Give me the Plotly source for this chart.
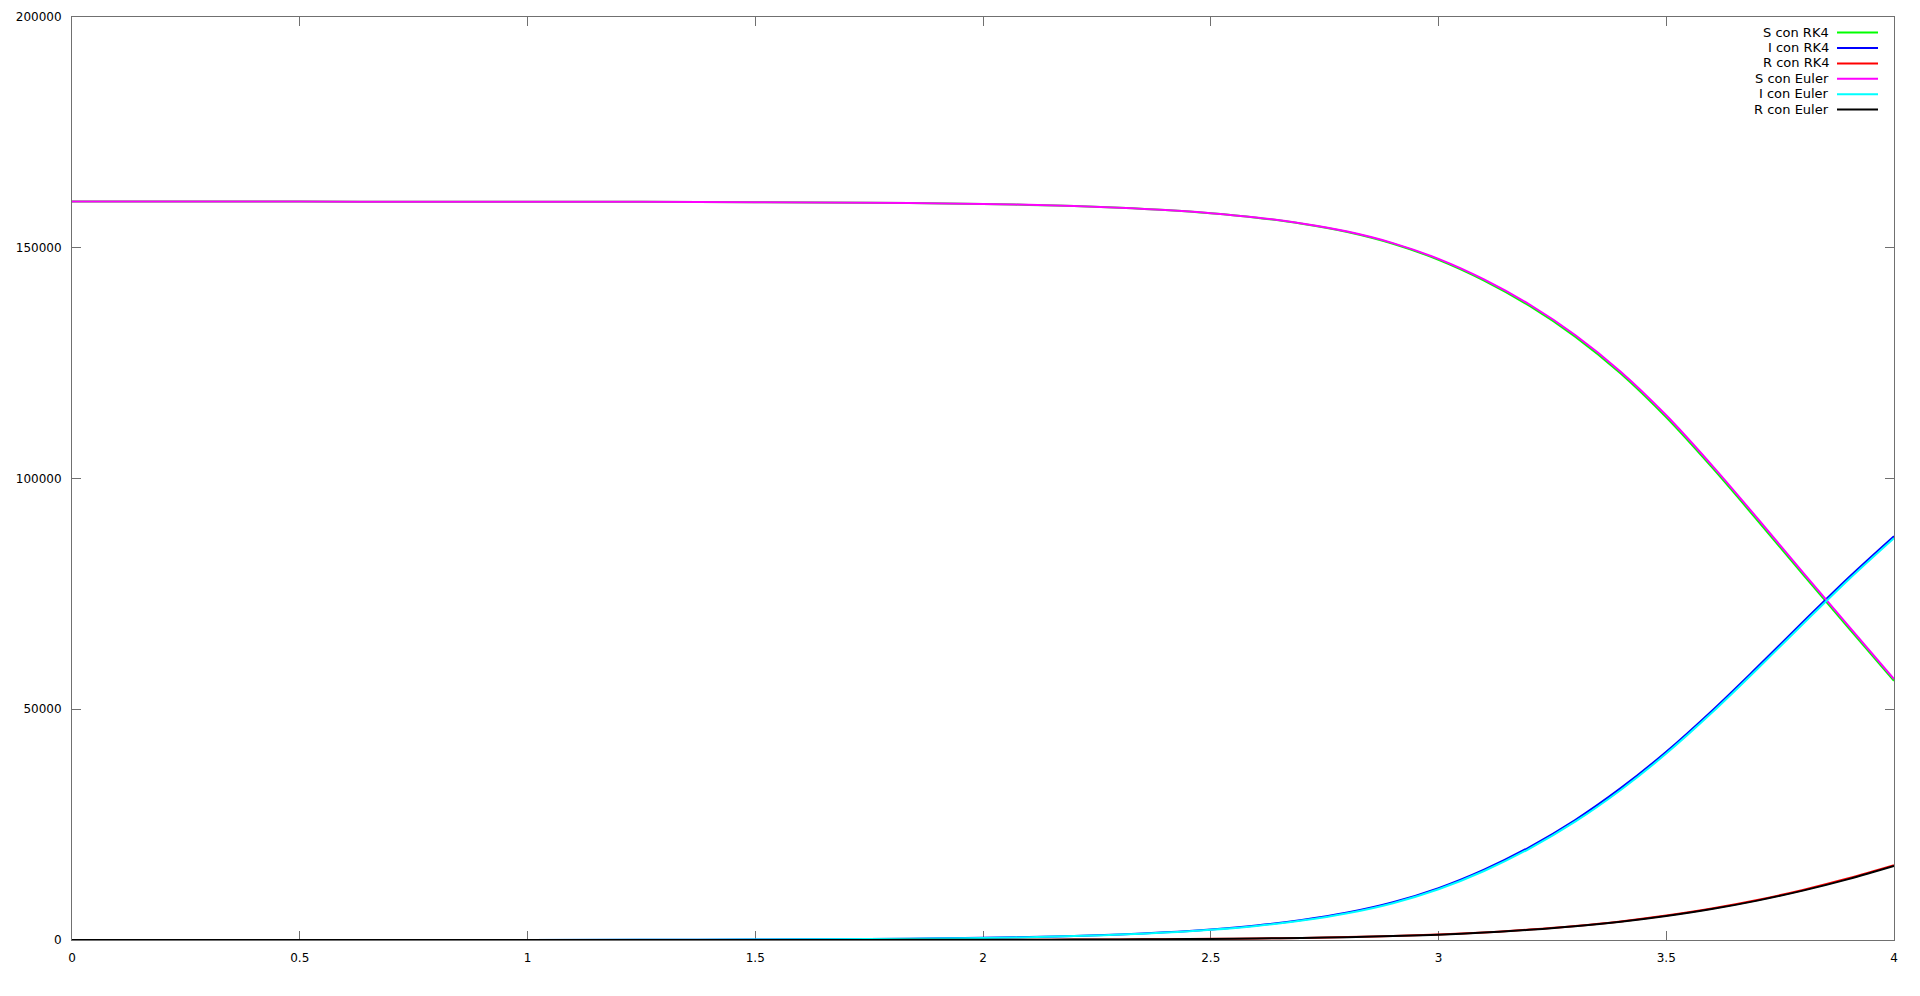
import plotly.graph_objects as go

# time grid
t = [0, 0.25, 0.5, 0.75, 1.0, 1.25, 1.5, 1.75, 2.0,
     2.1, 2.2, 2.3, 2.4, 2.5, 2.6, 2.7, 2.8, 2.9, 3.0,
     3.1, 3.2, 3.3, 3.4, 3.5, 3.6, 3.7, 3.8, 3.9, 4.0]

s_rk4 = [159999, 159998, 159995, 159988, 159975, 159945, 159884, 159751, 159480,
         159287, 159021, 158656, 158153, 157456, 156505, 155200, 153410, 150860, 147400,
         142900, 137400, 130750, 122750, 113250, 102450, 90950, 79250, 67650, 56150]

i_rk4 = [1, 2.2, 4.8, 10.5, 23, 50, 105, 225, 470,
         645, 885, 1215, 1670, 2300, 3160, 4340, 5960, 8200, 11250,
         15250, 20150, 26000, 32900, 40800, 49650, 59150, 68900, 78500, 87500]

r_rk4 = [0, 0.2, 0.5, 1.1, 2.4, 5.3, 11, 24, 50,
         68, 94, 129, 177, 244, 335, 460, 632, 870, 1195,
         1645, 2250, 3030, 4030, 5290, 6820, 8670, 10850, 13360, 16200]

s_euler = [159999, 159998, 159995, 159988, 159975, 159946, 159886, 159755, 159490,
           159300, 159040, 158680, 158185, 157500, 156560, 155270, 153510, 151010, 147600,
           143150, 137700, 131100, 123150, 113700, 102900, 91400, 79670, 68050, 56530]

i_euler = [1, 2.1, 4.6, 10, 22, 48, 101, 216, 450,
           618, 850, 1168, 1607, 2220, 3055, 4205, 5790, 7980, 10990,
           14950, 19820, 25640, 32510, 40390, 49220, 58710, 68460, 78070, 87080]

r_euler = [0, 0.2, 0.5, 1.0, 2.3, 5.0, 10.5, 23, 48,
           65, 90, 124, 170, 235, 322, 443, 610, 840, 1160,
           1600, 2195, 2960, 3945, 5190, 6700, 8535, 10700, 13190, 16030]

names = ["S con RK4", "I con RK4", "R con RK4", "S con Euler", "I con Euler", "R con Euler"]
colors = ["#00ff00", "#0000ff", "#ff0000", "#ff00ff", "#00ffff", "#000000"]
series = [s_rk4, i_rk4, r_rk4, s_euler, i_euler, r_euler]

x_ticks = [0, 0.5, 1, 1.5, 2, 2.5, 3, 3.5, 4]
x_labels = ["0", "0.5", "1", "1.5", "2", "2.5", "3", "3.5", "4"]
y_ticks = [0, 50000, 100000, 150000, 200000]
y_labels = ["0", "50000", "100000", "150000", "200000"]

fig = go.Figure()
for name, col, ys in zip(names, colors, series):
    fig.add_trace(go.Scatter(x=t, y=ys, mode="lines", name=name,
                             line=dict(color=col, width=2, shape="spline", smoothing=1.0),
                             showlegend=False, cliponaxis=False))

axis_common = dict(showgrid=False, zeroline=False, showline=True, linecolor="#707070",
                   linewidth=1, ticks="inside", ticklen=9, tickwidth=1, tickcolor="#707070",
                   mirror="allticks", layer="below traces", automargin=False,
                   ticklabeloverflow="allow",
                   tickfont=dict(family="DejaVu Sans", size=12, color="#000000"))

fig.update_xaxes(range=[0, 4], tickvals=x_ticks, ticktext=x_labels,
                 ticklabelstandoff=7, **axis_common)
fig.update_yaxes(range=[0, 200000], tickvals=y_ticks, ticktext=y_labels,
                 ticklabelstandoff=7, **axis_common)

# gnuplot-style key: text right-aligned, line sample on the right
key_top = 0.9836
key_step = 0.01668
for k, (name, col) in enumerate(zip(names, colors)):
    yk = key_top - k * key_step
    fig.add_annotation(x=0.9654, y=yk, xref="paper", yref="paper", text=name,
                       showarrow=False, xanchor="right", yanchor="middle",
                       font=dict(family="DejaVu Sans", size=13, color="#000000"))
    fig.add_shape(type="line", xref="paper", yref="paper",
                  x0=0.96872, x1=0.99122, y0=yk - 0.0005, y1=yk - 0.0005,
                  line=dict(color=col, width=2))

fig.update_layout(width=1920, height=996, plot_bgcolor="white", paper_bgcolor="white",
                  margin=dict(l=64, r=34, t=9, b=64, autoexpand=False), showlegend=False)

fig.write_html("out.html")
